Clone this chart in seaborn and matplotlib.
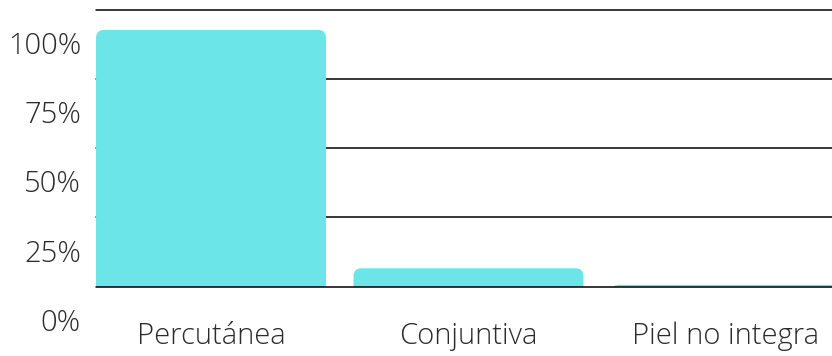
import matplotlib
matplotlib.use("Agg")
import matplotlib.pyplot as plt
from matplotlib.patches import FancyBboxPatch
import seaborn as sns
import pandas as pd

categories = ["Percutánea", "Conjuntiva", "Piel no integra"]
values = [92.8, 6.6, 0.6]
tick_values = [0, 25, 50, 75, 100]
tick_labels = ["0%", "25%", "50%", "75%", "100%"]

BAR_COLOR = "#6CE5E8"
TEXT_COLOR = "#2b2b2b"

sns.set_theme(style="white")
plt.rcParams["font.family"] = ["Open Sans", "DejaVu Sans"]

df = pd.DataFrame({"cat": categories, "val": values})

fig = plt.figure(figsize=(8.32, 3.56), dpi=100)
ax = fig.add_axes([96 / 832, 1 - 286.5 / 356, 736 / 832, (286.5 - 10) / 356])

sns.barplot(data=df, x="cat", y="val", ax=ax, color=BAR_COLOR, width=0.893,
            saturation=1, zorder=2)

ax.set_xlim(-0.4466, 2.4117)
ax.set_ylim(0, 100)

# px per data unit
xpx = 736 / (2.4117 + 0.4466)
ypx = 276.5 / 100
r_px = 8
rs = r_px / xpx
aspect = (r_px / ypx) / rs
for p in list(ax.patches):
    x, w, h = p.get_x(), p.get_width(), p.get_height()
    p.set_visible(False)
    fb = FancyBboxPatch((x, -10), w, h + 10,
                        boxstyle=f"round,pad=0,rounding_size={rs}",
                        mutation_aspect=aspect, facecolor=BAR_COLOR,
                        edgecolor="none", zorder=2, clip_on=True)
    ax.add_patch(fb)

# gridlines
for v in tick_values:
    ax.axhline(v, color="black", lw=1.1, zorder=1 if v != 0 else 3, clip_on=False)

for s in ax.spines.values():
    s.set_visible(False)

ax.set_yticks([])
ax.set_xlabel("")
ax.set_ylabel("")
ax.tick_params(axis="x", length=0, pad=25, labelsize=21, labelcolor=TEXT_COLOR)
for lab in ax.get_xticklabels():
    lab.set_fontweight("light")

ytr = ax.get_yaxis_transform()
for v, lab in zip(tick_values, tick_labels):
    ax.text(-15 / 736, v - 13.2, lab, transform=ytr, ha="right", va="center",
            fontsize=21, color=TEXT_COLOR, fontweight="light", clip_on=False)

fig.savefig("out.png", dpi=100)
